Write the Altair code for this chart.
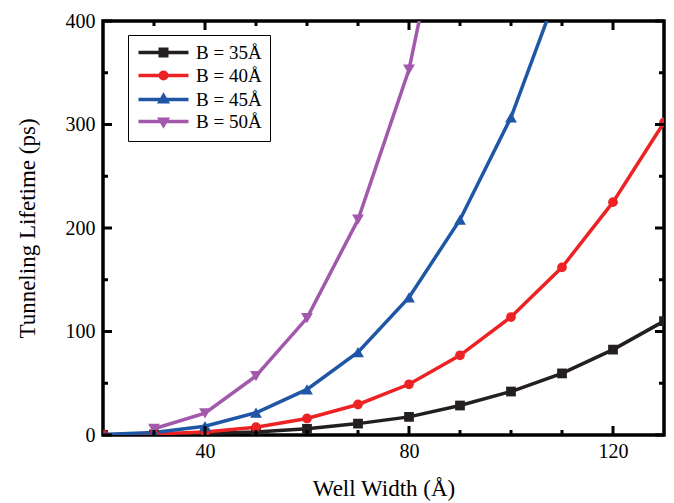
import altair as alt
import pandas as pd

# ---- data ----
series_names = ["B = 35Å", "B = 40Å", "B = 45Å", "B = 50Å"]
colors = ["#231f20", "#ed2224", "#1f56a5", "#a259ac"]

x_b35 = [20, 30, 40, 50, 60, 70, 80, 90, 100, 110, 120, 130]
y_b35 = [0.2, 0.6, 1.5, 3, 6, 11, 17.5, 28.5, 42, 59.5, 82.5, 110]

x_b40 = [20, 30, 40, 50, 60, 70, 80, 90, 100, 110, 120, 130]
y_b40 = [0.3, 1, 3, 7.5, 16, 29.5, 49, 77, 114, 162, 225, 302]

x_b45 = [20, 30, 40, 50, 60, 70, 80, 90, 100, 110]
y_b45 = [0.5, 2.5, 8.5, 21.5, 44, 80, 133, 208, 307, 440]

x_b50 = [30, 40, 50, 60, 70, 80, 90]
y_b50 = [6, 21, 57, 113, 208, 353, 590]

x_major = [40, 80, 120]
x_minor = [30, 50, 60, 70, 90, 100, 110]
y_major = [0, 100, 200, 300, 400]
y_minor = [50, 150, 250, 350]

rows = []
for name, xs, ys in zip(series_names, [x_b35, x_b40, x_b45, x_b50],
                        [y_b35, y_b40, y_b45, y_b50]):
    for xv, yv in zip(xs, ys):
        rows.append({"x": xv, "y": yv, "series": name})
df = pd.DataFrame(rows)

FONT = "Liberation Serif"
W, H = 561, 414

xscale = alt.Scale(domain=[20, 130], nice=False, zero=False)
yscale = alt.Scale(domain=[0, 400], nice=False)
cscale = alt.Scale(domain=series_names, range=colors)

x_enc = alt.X("x:Q", scale=xscale,
              axis=alt.Axis(values=x_major, ticks=False, domain=False, grid=False,
                            title="Well Width (Å)", labelFont=FONT, labelFontSize=20,
                            labelColor="black", labelPadding=6, titleFont=FONT,
                            titleFontSize=23, titleFontWeight="normal", titleColor="black",
                            titlePadding=16, format="d"))
y_enc = alt.Y("y:Q", scale=yscale,
              axis=alt.Axis(values=y_major, ticks=False, domain=False, grid=False,
                            title="Tunneling Lifetime (ps)", labelFont=FONT, labelFontSize=20,
                            labelColor="black", labelPadding=8, titleFont=FONT,
                            titleFontSize=23, titleFontWeight="normal", titleColor="black",
                            titlePadding=26, format="d"))

base = alt.Chart(df)

shapes = ["square", "circle", "triangle-up", "triangle-down"]
sizes = [95, 95, 140, 140]
line_layers = []
point_layers = []
for i, (name, shp, sz, col) in enumerate(zip(series_names, shapes, sizes, colors)):
    sub = base.transform_filter(alt.datum.series == name)
    line_layers.append(
        sub.mark_line(strokeWidth=3.5, color=col, clip=True).encode(
            x=x_enc if i == 0 else alt.X("x:Q", scale=xscale),
            y=y_enc if i == 0 else alt.Y("y:Q", scale=yscale))
    )
    point_layers.append(
        sub.mark_point(filled=True, opacity=1, shape=shp, size=sz, color=col, clip=True)
        .encode(x=alt.X("x:Q", scale=xscale), y=alt.Y("y:Q", scale=yscale))
    )

# legend built with Vega-Lite's own legend; custom stroked symbols = line + solid marker
legend_paths = [
    "M-5,0H5M-0.65,-0.65H0.65V0.65H-0.65ZM-0.2,-0.2H0.2V0.2H-0.2Z",
    "M-5,0H5M0.65,0A0.65,0.65,0,1,1,-0.65,0A0.65,0.65,0,1,1,0.65,0Z"
    "M0.2,0A0.2,0.2,0,1,1,-0.2,0A0.2,0.2,0,1,1,0.2,0Z",
    "M-5,0H5M0,-0.75L0.7,0.45H-0.7ZM0,-0.2L0.2,0.15H-0.2Z",
    "M-5,0H5M0,0.75L0.7,-0.45H-0.7ZM0,0.2L0.2,-0.15H-0.2Z",
]
leg_df = pd.DataFrame({"series": series_names})
leg = alt.Legend(title=None, orient="none", legendX=25, legendY=14,
                 padding=8, strokeColor="black", fillColor="white",
                 labelFont=FONT, labelFontSize=19, labelColor="black",
                 symbolSize=100, symbolStrokeWidth=3.5, symbolOffset=18,
                 labelOffset=23, rowPadding=2, symbolOpacity=1)
legend_layer = alt.Chart(leg_df).mark_point(filled=False, opacity=1, clip=True,
                                             strokeWidth=3.5).encode(
    x=alt.value(-500), y=alt.value(-500),
    color=alt.Color("series:N", scale=cscale, legend=leg),
    shape=alt.Shape("series:N", scale=alt.Scale(domain=series_names, range=legend_paths),
                    legend=leg),
)

# inward ticks on all four sides
def xticks(vals, length, at_bottom):
    d = pd.DataFrame({"v": vals})
    if at_bottom:
        y1, y2 = H, H - length
    else:
        y1, y2 = 0, length
    return alt.Chart(d).mark_rule(color="black", strokeWidth=3).encode(
        x=alt.X("v:Q", scale=xscale), y=alt.value(y1), y2=alt.value(y2))

def yticks(vals, length, at_left):
    d = pd.DataFrame({"v": vals})
    if at_left:
        x1, x2 = 0, length
    else:
        x1, x2 = W, W - length
    return alt.Chart(d).mark_rule(color="black", strokeWidth=3).encode(
        y=alt.Y("v:Q", scale=yscale), x=alt.value(x1), x2=alt.value(x2))

ticks = [
    xticks(x_major, 9, True), xticks(x_minor, 5, True),
    xticks(x_major, 9, False), xticks(x_minor, 5, False),
    yticks(y_major, 9, True), yticks(y_minor, 5, True),
    yticks(y_major, 9, False), yticks(y_minor, 5, False),
]

chart = alt.layer(*line_layers, *point_layers, legend_layer, *ticks).properties(
    width=W, height=H,
    autosize=alt.AutoSizeParams(type="none"),
    padding={"left": 103, "top": 21, "right": 10, "bottom": 68},
    background="white",
).configure_view(stroke="black", strokeWidth=3.5)

chart.save("out.html", embed_options={"renderer": "svg", "actions": False})
